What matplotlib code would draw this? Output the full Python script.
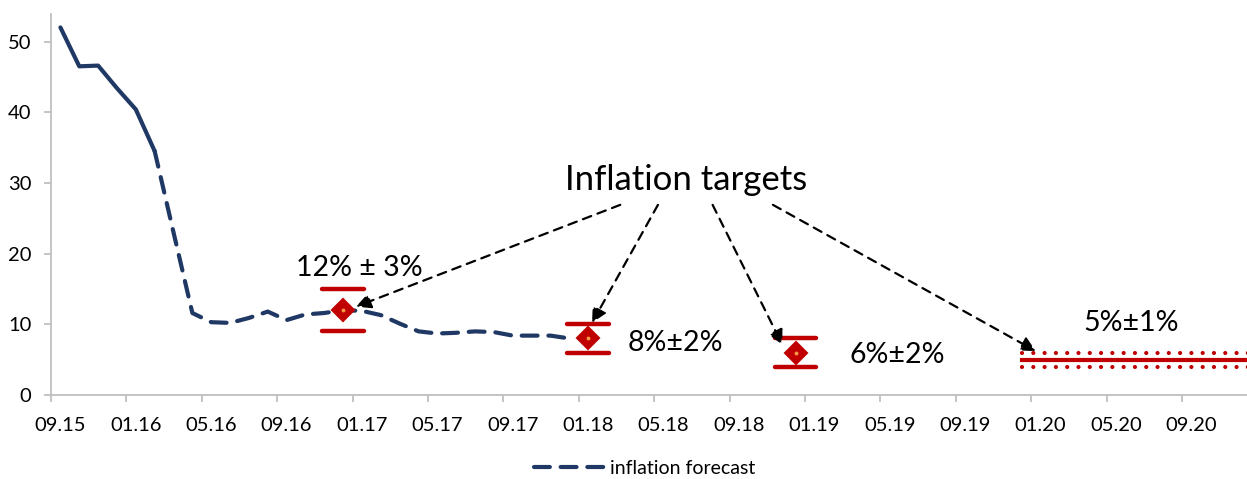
import numpy as np
import matplotlib
matplotlib.use('Agg')
import matplotlib.pyplot as plt

plt.rcParams['font.family'] = ['Lato', 'DejaVu Sans']

# 月度数据: 09.15 起
tick_labels = ['09.15', '01.16', '05.16', '09.16', '01.17', '05.17', '09.17', '01.18',
               '05.18', '09.18', '01.19', '05.19', '09.19', '01.20', '05.20', '09.20']
forecast = [52.0, 46.5, 46.6, 43.4, 40.4, 34.5, 23.0, 11.6, 10.3, 10.2, 10.9, 11.8,
            10.6, 11.4, 11.6, 12.0, 11.9, 11.3, 10.1, 9.0, 8.7, 8.8, 9.0, 8.9,
            8.4, 8.4, 8.4, 8.0]
n_actual = 6  # 实线部分（实际值）

target_idx = [15, 28, 39]
target_val = [12, 8, 6]
target_tol = [3, 2, 2]
target_text = ['12% ± 3%', '8%±2%', '6%±2%']

band_start, band_end = 51, 64
band_val, band_tol = 5, 1
band_text = '5%±1%'

navy = '#1F3864'
red = '#C00000'
grey = '#BFBFBF'

fig = plt.figure(figsize=(12.47, 4.79), dpi=100)
ax = fig.add_axes([51 / 1247, 84 / 479, 1196 / 1247, 381 / 479])

x = np.arange(len(forecast))
ax.plot(x[:n_actual], forecast[:n_actual], color=navy, lw=3, solid_capstyle='round',
        solid_joinstyle='round')
ax.plot(x[n_actual - 1:], forecast[n_actual - 1:], color=navy, lw=3,
        linestyle=(0, (3.8, 2.6)), dash_capstyle='round', label='inflation forecast')

# 目标点及区间
for i, v, t in zip(target_idx, target_val, target_tol):
    ax.hlines([v + t, v - t], i - 1.1, i + 1.1, color=red, lw=3.2, capstyle='round')
ax.plot(target_idx, target_val, 'D', color=red, markersize=11, markeredgecolor=red,
        markeredgewidth=1.5)
ax.plot(target_idx, target_val, 'o', color='#F79646', markersize=2.8, markeredgewidth=0)

# 2020 目标带
bx = [band_start, band_end]
ax.plot(bx, [band_val] * 2, color=red, lw=3)
for yy in (band_val + band_tol, band_val - band_tol):
    ax.plot(bx, [yy] * 2, color=red, lw=3, linestyle=(0, (0.01, 2.7)),
            dash_capstyle='round')

# 文字
ax.text(33.2, 30.4, 'Inflation targets', fontsize=25, ha='center', va='center')
ax.text(15.84, 18.0, target_text[0], fontsize=20.5, ha='center', va='center')
ax.text(32.6, 7.4, target_text[1], fontsize=20.5, ha='center', va='center')
ax.text(44.4, 5.7, target_text[2], fontsize=20.5, ha='center', va='center')
ax.text(56.8, 10.2, band_text, fontsize=20.5, ha='center', va='center')

arrows = [((15.68, 12.5), (29.7, 26.9)),
          ((28.2, 10.2), (31.7, 26.9)),
          ((38.3, 7.1), (34.6, 26.9)),
          ((51.75, 6.2), (37.8, 26.9))]
for tip, start in arrows:
    ax.annotate('', xy=tip, xytext=start,
                arrowprops=dict(arrowstyle='-|>', color='black', lw=1.6,
                                linestyle=(0, (4, 3)), mutation_scale=22,
                                shrinkA=0, shrinkB=0))

ax.set_xlim(-0.5, 62.95)
ax.set_ylim(0, 53.9)
ax.set_yticks(np.arange(0, 51, 10))
ax.set_xticks(np.arange(0, 4 * len(tick_labels), 4))
ax.set_xticklabels(tick_labels)
ax.set_xticks(np.arange(-0.5, 63, 4), minor=True)
ax.tick_params(axis='x', which='major', length=0, pad=16, labelsize=14.5)
ax.tick_params(axis='x', which='minor', length=5, color=grey, width=1.3)
ax.tick_params(axis='y', length=5, color=grey, width=1.3, pad=9, labelsize=14.5)

for s in ('top', 'right'):
    ax.spines[s].set_visible(False)
for s in ('left', 'bottom'):
    ax.spines[s].set_color(grey)
    ax.spines[s].set_linewidth(1.3)

fig.legend(loc='center', bbox_to_anchor=(645 / 1247, 1 - 468 / 479), frameon=False,
           fontsize=14, handlelength=3.7, handletextpad=0.2)

fig.savefig('out.png', dpi=100)
